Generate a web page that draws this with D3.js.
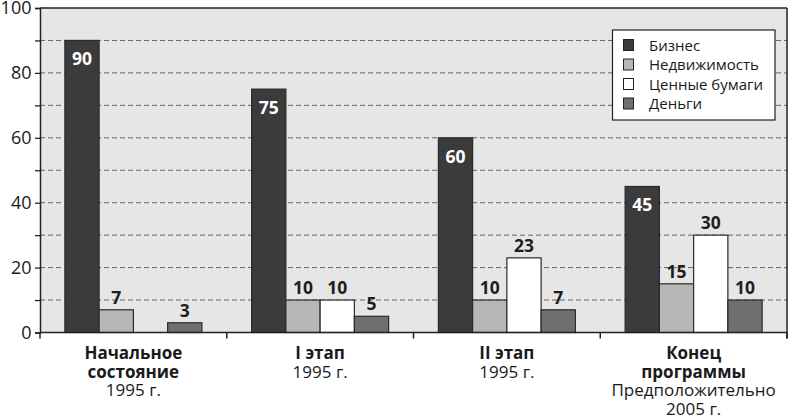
<!DOCTYPE html>
<html><head><meta charset="utf-8">
<script src="https://cdn.jsdelivr.net/npm/d3@7"></script>
<style>body{margin:0;background:#fff}svg{display:block}text{font-family:"Open Sans",sans-serif}</style>
</head><body><svg id="c" width="790" height="417"></svg>
<script>
const categories = ["start","stage1","stage2","end"];
const categoryBold = [["Начальное","состояние"],["I этап"],["II этап"],["Конец","программы"]];
const categoryNormal = [["1995 г."],["1995 г."],["1995 г."],["Предположительно","2005 г."]];
const seriesNames = ["Бизнес","Недвижимость","Ценные бумаги","Деньги"];
const business = [90,75,60,45];
const realEstate = [7,10,10,15];
const securities = [0,10,23,30];
const money = [3,5,7,10];
const yTicks = [0,20,40,60,80,100];
const gridTicks = [10,20,30,40,50,60,70,80,90];
const colors = ["#3b3b3b","#b7b7b7","#ffffff","#6f6f6f"];

const seriesValues = [business, realEstate, securities, money];
const svg = d3.select("#c");
const L=40, R=787, T=8, B=332.5;
const y = d3.scaleLinear().domain([0,100]).range([B,T]);
const x0 = d3.scaleBand().domain(categories).range([L,R]).padding(0);
const inset = (x0.bandwidth()-137)/2;
const x1 = d3.scaleBand().domain(seriesNames).range([inset, x0.bandwidth()-inset]).padding(0);

svg.append("rect").attr("x",L).attr("y",T).attr("width",R-L).attr("height",B-T).attr("fill","#e6e6e6");

svg.append("g").selectAll("line").data(gridTicks).join("line")
  .attr("x1",L).attr("x2",R).attr("y1",d=>y(d)).attr("y2",d=>y(d))
  .attr("stroke","#646464").attr("stroke-width",1).attr("stroke-dasharray","5,3");

// bars
categories.forEach((c,ci)=>{
  const g = svg.append("g").attr("transform",`translate(${x0(c)},0)`);
  seriesNames.forEach((s,si)=>{
    const v = seriesValues[si][ci];
    if(v>0){
      g.append("rect").attr("x",x1(s)).attr("y",y(v)).attr("width",x1.bandwidth()).attr("height",y(0)-y(v))
        .attr("fill",colors[si]).attr("stroke","#2a2a2a").attr("stroke-width",1.2);
      const inside = si===0;
      g.append("text").attr("x",x1(s)+x1.bandwidth()/2).attr("y", inside? y(v)+25 : y(v)-6)
        .attr("text-anchor","middle").attr("font-size",17.5).attr("font-weight","bold")
        .attr("fill", inside? "#ffffff":"#1e1e1e").text(v);
    }
  });
});

// frame
svg.append("line").attr("x1",L).attr("x2",R).attr("y1",T).attr("y2",T).attr("stroke","#222").attr("stroke-width",1.5);
svg.append("line").attr("x1",R).attr("x2",R).attr("y1",T).attr("y2",B+6).attr("stroke","#222").attr("stroke-width",1.5);

// y axis
const yAxis = d3.axisLeft(y).tickValues(d3.range(0,101,10)).tickSize(5).tickFormat(d=>yTicks.includes(d)?d:"");
const ya = svg.append("g").attr("transform",`translate(${L},0)`).call(yAxis);
ya.select(".domain").attr("stroke","#222").attr("stroke-width",1.5);
ya.selectAll(".tick line").attr("stroke","#222").attr("stroke-width",1.3);
ya.selectAll(".tick text").attr("font-size",18).attr("fill","#1a1a1a").attr("font-family","'Open Sans',sans-serif").attr("x",-8.5);

// x axis
svg.append("line").attr("x1",L).attr("x2",R).attr("y1",B).attr("y2",B).attr("stroke","#222").attr("stroke-width",1.5);
const bounds = categories.map(c=>x0(c)).concat([R]);
svg.append("g").selectAll("line").data(bounds).join("line")
  .attr("x1",d=>d).attr("x2",d=>d).attr("y1",B).attr("y2",B+6).attr("stroke","#222").attr("stroke-width",1.5);

categories.forEach((c,ci)=>{
  const cx = x0(c)+x0.bandwidth()/2;
  const lines = categoryBold[ci].map(t=>({t,b:true})).concat(categoryNormal[ci].map(t=>({t,b:false})));
  lines.forEach((ln,i)=>{
    svg.append("text").attr("x",cx).attr("y",359+i*18.6).attr("text-anchor","middle")
      .attr("font-size",17).attr("font-weight",ln.b?"bold":"normal").attr("fill","#1a1a1a").text(ln.t);
  });
});

// legend
const lg = svg.append("g");
lg.append("rect").attr("x",612.5).attr("y",30).attr("width",162.5).attr("height",90).attr("fill","#fff").attr("stroke","#222").attr("stroke-width",1.2);
seriesNames.forEach((s,i)=>{
  const yy = 45+i*19.5;
  lg.append("rect").attr("x",623.5).attr("y",yy-5.5).attr("width",10).attr("height",11).attr("fill",colors[i]).attr("stroke","#222").attr("stroke-width",1);
  lg.append("text").attr("x",649).attr("y",yy+5.5).attr("font-size",15).attr("fill","#1a1a1a").text(s);
});
</script></body></html>
